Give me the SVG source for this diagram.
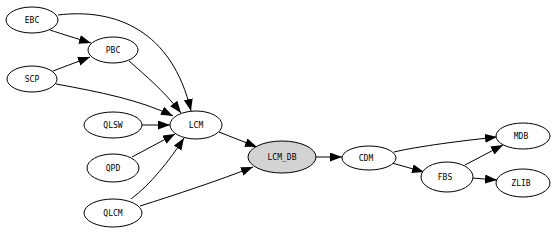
<svg xmlns="http://www.w3.org/2000/svg" width="554" height="232" viewBox="0 0 554 232">
<defs>
<marker id="ah" markerUnits="userSpaceOnUse" markerWidth="13" markerHeight="10" refX="12" refY="4.5" orient="auto">
<path d="M0,0 L12,4.5 L0,9 z" fill="#000"/>
</marker>
<style>
.n ellipse{fill:#fff;stroke:#000;stroke-width:1}
.n text{font-family:"DejaVu Sans Mono","Liberation Mono",monospace;font-size:8px;text-anchor:middle;fill:#000}
.e path{fill:none;stroke:#000;stroke-width:1;marker-end:url(#ah)}
</style>
</defs>
<rect width="554" height="232" fill="#fff"/>
<g id="edges" class="e">
<path d="M50,30 C62,34 75,38 91,43"/>
<path d="M58,15 C115,8 172,30 191,111"/>
<path d="M53,71 L90,57"/>
<path d="M56,84 C100,92 140,100 173,116"/>
<path d="M129,61 C145,75 165,92 181,113"/>
<path d="M142,125 L170,125"/>
<path d="M132,157 L175,134"/>
<path d="M131,199 C150,185 170,160 184,138"/>
<path d="M140,206 C175,195 220,180 253,167"/>
<path d="M219,132 L257,147"/>
<path d="M316,157 L342,157"/>
<path d="M394,152 C420,146 460,141 497,137"/>
<path d="M392,163 L424,172"/>
<path d="M465,165 L503,145"/>
<path d="M472,178 L497,180"/>
</g>
<g id="EBC" class="n"><ellipse cx="32" cy="20" rx="26" ry="13"/><text x="32" y="23">EBC</text></g>
<g id="PBC" class="n"><ellipse cx="113" cy="50" rx="25" ry="13"/><text x="113" y="53">PBC</text></g>
<g id="SCP" class="n"><ellipse cx="32" cy="79" rx="25" ry="13"/><text x="32" y="82">SCP</text></g>
<g id="LCM" class="n"><ellipse cx="196" cy="125" rx="26" ry="14"/><text x="196" y="128">LCM</text></g>
<g id="QLSW" class="n"><ellipse cx="113" cy="125" rx="29" ry="13"/><text x="113" y="128">QLSW</text></g>
<g id="QPD" class="n"><ellipse cx="113" cy="168" rx="26" ry="14"/><text x="113" y="171">QPD</text></g>
<g id="QLCM" class="n"><ellipse cx="113" cy="213" rx="29" ry="14"/><text x="113" y="216">QLCM</text></g>
<g id="LCM_DB" class="n"><ellipse cx="282" cy="157" rx="34" ry="16" style="fill:#d3d3d3"/><text x="282" y="160">LCM_DB</text></g>
<g id="CDM" class="n"><ellipse cx="369" cy="158" rx="27" ry="12"/><text x="366" y="161">CDM</text></g>
<g id="MDB" class="n"><ellipse cx="523" cy="136" rx="27" ry="13"/><text x="521" y="139">MDB</text></g>
<g id="FBS" class="n"><ellipse cx="447" cy="177" rx="26" ry="15"/><text x="445" y="180">FBS</text></g>
<g id="ZLIB" class="n"><ellipse cx="523" cy="183" rx="27" ry="14"/><text x="521" y="186">ZLIB</text></g>
</svg>
